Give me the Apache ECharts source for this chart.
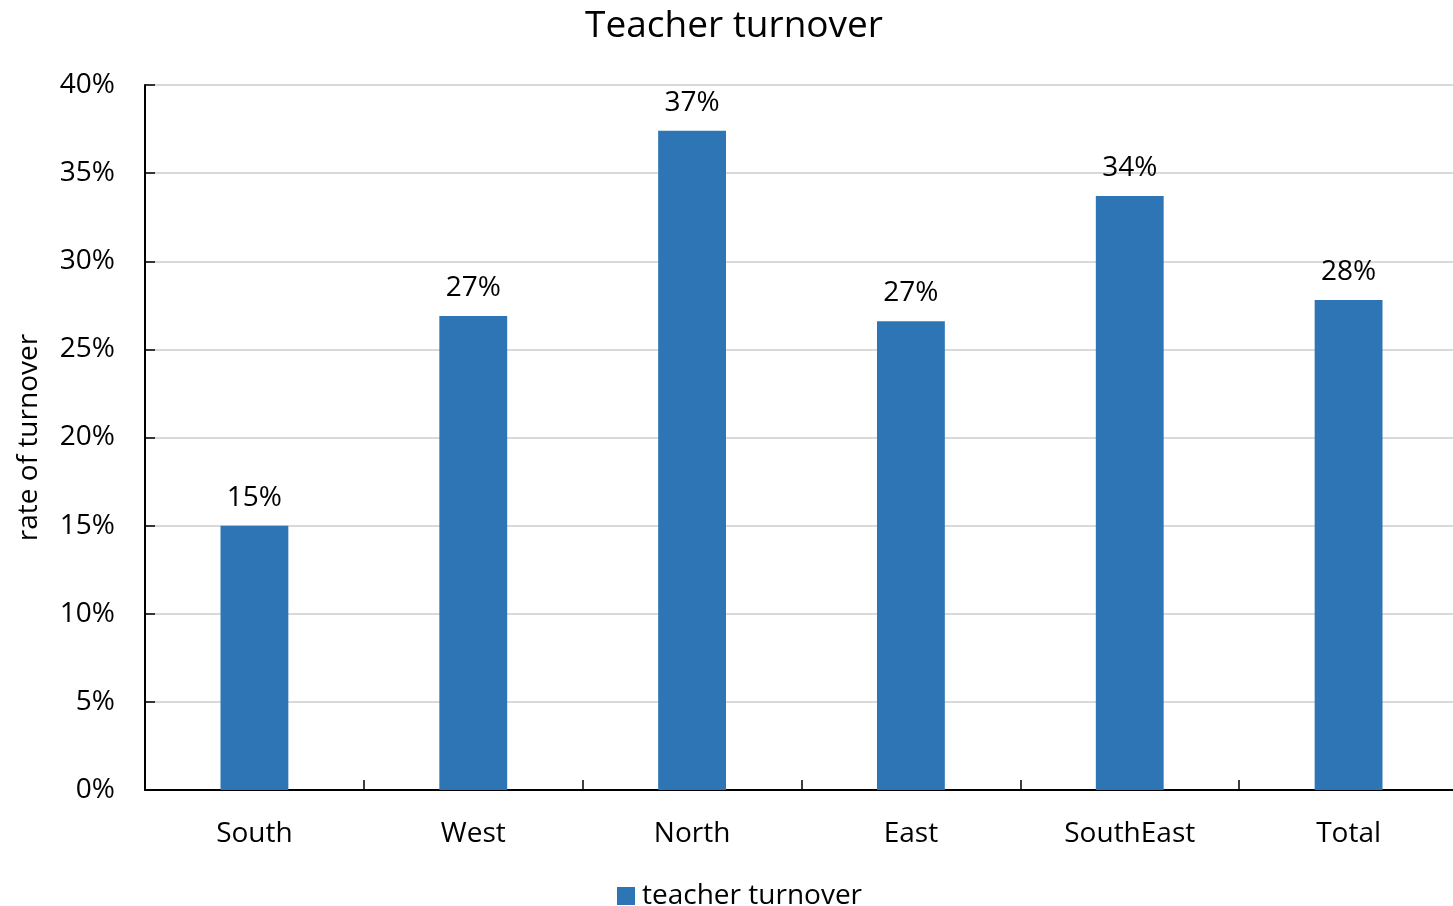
<!DOCTYPE html>
<html>
<head>
<meta charset="utf-8">
<script src="https://cdn.jsdelivr.net/npm/echarts@6/dist/echarts.min.js"></script>
<style>html,body{margin:0;padding:0;background:#fff;overflow:hidden;}#c{width:1458px;height:906px;}</style>
</head>
<body>
<div id="c"></div>
<script>
const categories = ['South', 'West', 'North', 'East', 'SouthEast', 'Total'];
const turnover = [15.0, 26.9, 37.4, 26.6, 33.7, 27.8];
const seriesName = 'teacher turnover';
const FONT = '"Open Sans", "Noto Sans", sans-serif';

const chart = echarts.init(document.getElementById('c'), null, {renderer: 'canvas'});
chart.setOption({
  animation: false,
  backgroundColor: '#fff',
  textStyle: {fontFamily: FONT, color: '#000'},
  title: {
    text: 'Teacher turnover',
    left: 580, top: 3,
    textStyle: {fontFamily: FONT, fontSize: 37, fontWeight: 'normal', color: '#000'}
  },
  legend: {
    bottom: -9, left: 612,
    itemWidth: 18, itemHeight: 18, itemGap: 10,
    icon: 'rect',
    textStyle: {fontFamily: FONT, fontSize: 28, color: '#000', padding: [0, 0, 0, 2]},
    data: [seriesName]
  },
  grid: {left: 145, right: 0, top: 85, bottom: 116, containLabel: false},
  xAxis: {
    type: 'category',
    data: categories,
    axisLine: {lineStyle: {color: '#000', width: 2}},
    axisTick: {show: true, inside: true, length: 10, lineStyle: {color: '#000', width: 1.5}},
    axisLabel: {fontFamily: FONT, fontSize: 28, color: '#000', margin: 30}
  },
  yAxis: {
    type: 'value',
    min: 0, max: 40, interval: 5,
    name: 'rate of turnover',
    nameLocation: 'middle',
    nameGap: 102,
    nameTextStyle: {fontFamily: FONT, fontSize: 28, color: '#000'},
    axisLine: {show: true, lineStyle: {color: '#000', width: 2}},
    axisTick: {show: true, inside: true, length: 10, lineStyle: {color: '#000', width: 1.5}},
    axisLabel: {fontFamily: FONT, fontSize: 28, color: '#000', margin: 30, formatter: v => v + '%'},
    splitLine: {show: true, lineStyle: {color: '#d9d9d9', width: 2}}
  },
  series: [{
    name: seriesName,
    type: 'bar',
    data: turnover,
    barWidth: '31%',
    itemStyle: {color: '#2e75b6'},
    label: {
      show: true, position: 'top', distance: 14,
      fontFamily: FONT, fontSize: 28, color: '#000',
      formatter: p => Math.round(p.value) + '%'
    }
  }]
});
</script>
</body>
</html>
